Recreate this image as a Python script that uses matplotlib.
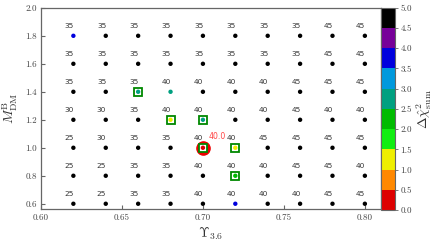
import numpy as np
import matplotlib
matplotlib.use("Agg")
import matplotlib.pyplot as plt
from matplotlib.colors import ListedColormap, BoundaryNorm
import matplotlib.ticker as mticker

plt.rcParams['mathtext.fontset'] = 'cm'
plt.rcParams['font.family'] = 'serif'
plt.rcParams['font.serif'] = ['cmr10', 'DejaVu Serif']
plt.rcParams['axes.formatter.use_mathtext'] = True

# ---- data ----
upsilon = [0.62, 0.64, 0.66, 0.68, 0.70, 0.72, 0.74, 0.76, 0.78, 0.80]
mass = [0.6, 0.8, 1.0, 1.2, 1.4, 1.6, 1.8]
# label numbers per row (rows follow `mass`)
labels = [
    [25, 25, 35, 35, 40, 40, 40, 40, 45, 45],
    [25, 25, 35, 35, 40, 40, 40, 45, 45, 40],
    [25, 30, 35, 35, 40, 40, 45, 45, 45, 45],
    [30, 30, 35, 40, 40, 40, 40, 45, 40, 40],
    [35, 35, 35, 40, 40, 40, 40, 45, 45, 45],
    [35, 35, 35, 35, 35, 35, 35, 35, 45, 45],
    [35, 35, 35, 35, 35, 35, 35, 35, 45, 45],
]
# delta chi^2 per row
chi2 = [
    [5.0, 5.0, 5.0, 5.0, 5.0, 3.75, 5.0, 5.0, 5.0, 5.0],
    [5.0, 5.0, 5.0, 5.0, 5.0, 2.25, 5.0, 5.0, 5.0, 5.0],
    [5.0, 5.0, 5.0, 5.0, 0.0, 1.25, 5.0, 5.0, 5.0, 5.0],
    [5.0, 5.0, 5.0, 1.25, 2.75, 5.0, 5.0, 5.0, 5.0, 5.0],
    [5.0, 5.0, 2.75, 2.75, 5.0, 5.0, 5.0, 5.0, 5.0, 5.0],
    [5.0, 5.0, 5.0, 5.0, 5.0, 5.0, 5.0, 5.0, 5.0, 5.0],
    [3.75, 5.0, 5.0, 5.0, 5.0, 5.0, 5.0, 5.0, 5.0, 5.0],
]
boxed_x = [0.66, 0.68, 0.70, 0.70, 0.72, 0.72]
boxed_y = [1.4, 1.2, 1.2, 1.0, 1.0, 0.8]
best_x, best_y, best_label = 0.70, 1.0, "40.0"

bounds = [0.0, 0.5, 1.0, 1.5, 2.0, 2.5, 3.0, 3.5, 4.0, 4.5, 5.0]
colors = ['#dd0000', '#ff8800', '#eeee00', '#11ee11', '#00bb00',
          '#00a080', '#0099dd', '#0000dd', '#770099', '#000000']

cmap = ListedColormap(colors)
norm = BoundaryNorm(bounds, cmap.N)

fig = plt.figure(figsize=(4.36, 2.44), dpi=100)
ax = fig.add_axes([0.094, 0.142, 0.780, 0.826])
cax = fig.add_axes([0.874, 0.139, 0.032, 0.829])

X, Y = np.meshgrid(upsilon, mass)
C = np.array(chi2)

# best-fit red circle
ax.plot([best_x], [best_y], 'o', ms=9.5, color='#ee0000', mec='#ee0000', zorder=2)
# boxes
ax.plot(boxed_x, boxed_y, 's', ms=6.0, mfc='white', mec='#008800', mew=1.3, zorder=3)
sc = ax.scatter(X.ravel(), Y.ravel(), c=C.ravel(), cmap=cmap, norm=norm,
                s=10, edgecolors='none', zorder=4)

for i, yv in enumerate(mass):
    for j, xv in enumerate(upsilon):
        ax.text(xv + 0.0003, yv + 0.053, str(labels[i][j]), ha='right', va='baseline',
                fontsize=5.3, family='DejaVu Sans', color='#333333')
ax.text(best_x + 0.0036, best_y + 0.062, best_label, ha='left', va='baseline',
        fontsize=5.6, family='DejaVu Sans', color='#ff4444')

ax.set_xlim(0.60, 0.81)
ax.set_ylim(0.56, 2.0)
ax.set_xticks([0.60, 0.65, 0.70, 0.75, 0.80])
ax.set_yticks([0.6, 0.8, 1.0, 1.2, 1.4, 1.6, 1.8, 2.0])
ax.xaxis.set_major_formatter(mticker.FormatStrFormatter('%.2f'))
ax.yaxis.set_major_formatter(mticker.FormatStrFormatter('%.1f'))
ax.tick_params(direction='in', length=3, width=0.8, color='#666666',
               labelsize=6.5, labelcolor='#444444', pad=3)
for s in ax.spines.values():
    s.set_color('#666666')
    s.set_linewidth(0.9)

ax.set_xlabel(r'$\Upsilon_{3.6}$', fontsize=10, color='#333333', labelpad=3)
ax.set_ylabel(r'$M^{\rm B}_{\rm DM}$', fontsize=10, color='#333333', labelpad=4)

cb = fig.colorbar(sc, cax=cax, boundaries=bounds, ticks=bounds)
cb.ax.yaxis.set_major_formatter(mticker.FormatStrFormatter('%.1f'))
cb.ax.tick_params(labelsize=6.5, labelcolor='#444444', length=2, width=0.6,
                  color='#666666', pad=2)
cb.outline.set_edgecolor('#666666')
cb.outline.set_linewidth(0.8)
cb.set_label(r'$\Delta\hat{\chi}^2_{\rm sum}$', fontsize=10, color='#333333', labelpad=2)

fig.savefig('out.png', dpi=100)
